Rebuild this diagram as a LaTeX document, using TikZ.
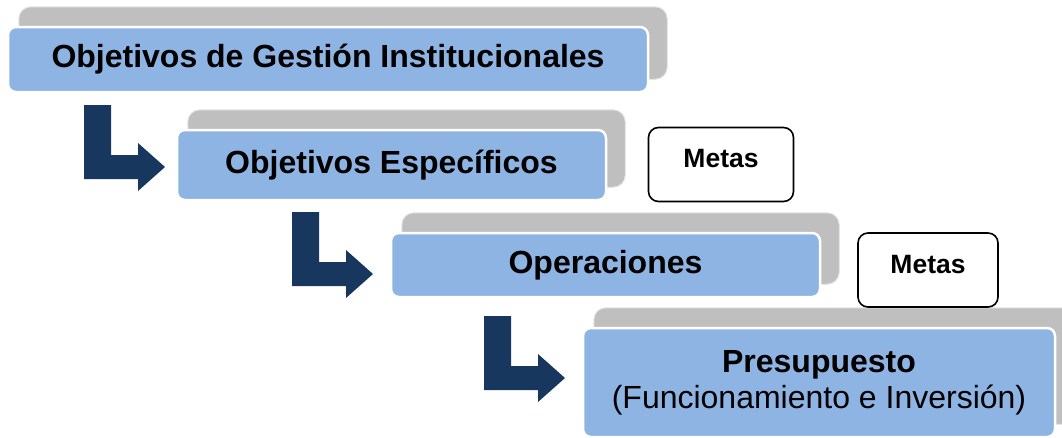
\documentclass[tikz,border=0pt]{standalone}
\usepackage{fontspec}
\setmainfont{Liberation Sans}
\usetikzlibrary{calc, backgrounds}

\definecolor{azul}{HTML}{8EB4E3}
\definecolor{gris}{HTML}{BFBFBF}
\definecolor{marino}{HTML}{17375E}

\tikzset{
  caja/.style={rectangle, rounded corners=8pt, fill=azul, draw=white,
    line width=2.5pt, inner sep=0pt, align=center,
    font=\fontsize{32}{36}\selectfont\bfseries},
  metas/.style={rectangle, rounded corners=10pt, draw=black, line width=1.6pt,
    fill=white, inner sep=0pt, text height=20pt, text depth=14pt,
    font=\fontsize{26.5}{30}\selectfont\bfseries},
  flecha/.pic={
    \fill[marino] (0,0) -- (27,0) -- (27,50) -- (54,50) -- (54,38) -- (81,62)
      -- (54,86) -- (54,74) -- (0,74) -- cycle;
  }
}

\begin{document}
\begin{tikzpicture}[x=1pt, y=-1pt]
  \useasboundingbox (0,0) rectangle (1062,437);

  % cajas principales
  \node[caja, minimum width=640pt, minimum height=65pt] (obj) at (328,59.5)
    {Objetivos de Gestión Institucionales};
  \node[caja, minimum width=429pt, minimum height=70pt] (esp) at (391.5,165)
    {Objetivos Específicos};
  \node[caja, minimum width=429pt, minimum height=64pt] (ope) at (605.5,265)
    {Operaciones};
  \node[caja, minimum width=472pt, minimum height=109pt] (pre) at (819,382.5)
    {Presupuesto\\\mdseries(Funcionamiento e Inversión)};

  % sombras grises detras
  \begin{scope}[on background layer]
    \foreach \c in {obj, esp, ope, pre}
      \draw[fill=gris, draw=gris!40, line width=1pt, rounded corners=12pt]
        ($(\c.north west)+(12,-19)$) rectangle ($(\c.south east)+(18,-14)$);
  \end{scope}

  % metas
  \node[metas, minimum width=145pt, minimum height=74pt] (m1) at (721,164.5) {Metas};
  \node[metas, minimum width=140pt, minimum height=74pt] (m2) at (928,270) {Metas};

  % flechas
  \pic at (84,105) {flecha};
  \pic at (292,212) {flecha};
  \pic at (484,316) {flecha};
\end{tikzpicture}
\end{document}
